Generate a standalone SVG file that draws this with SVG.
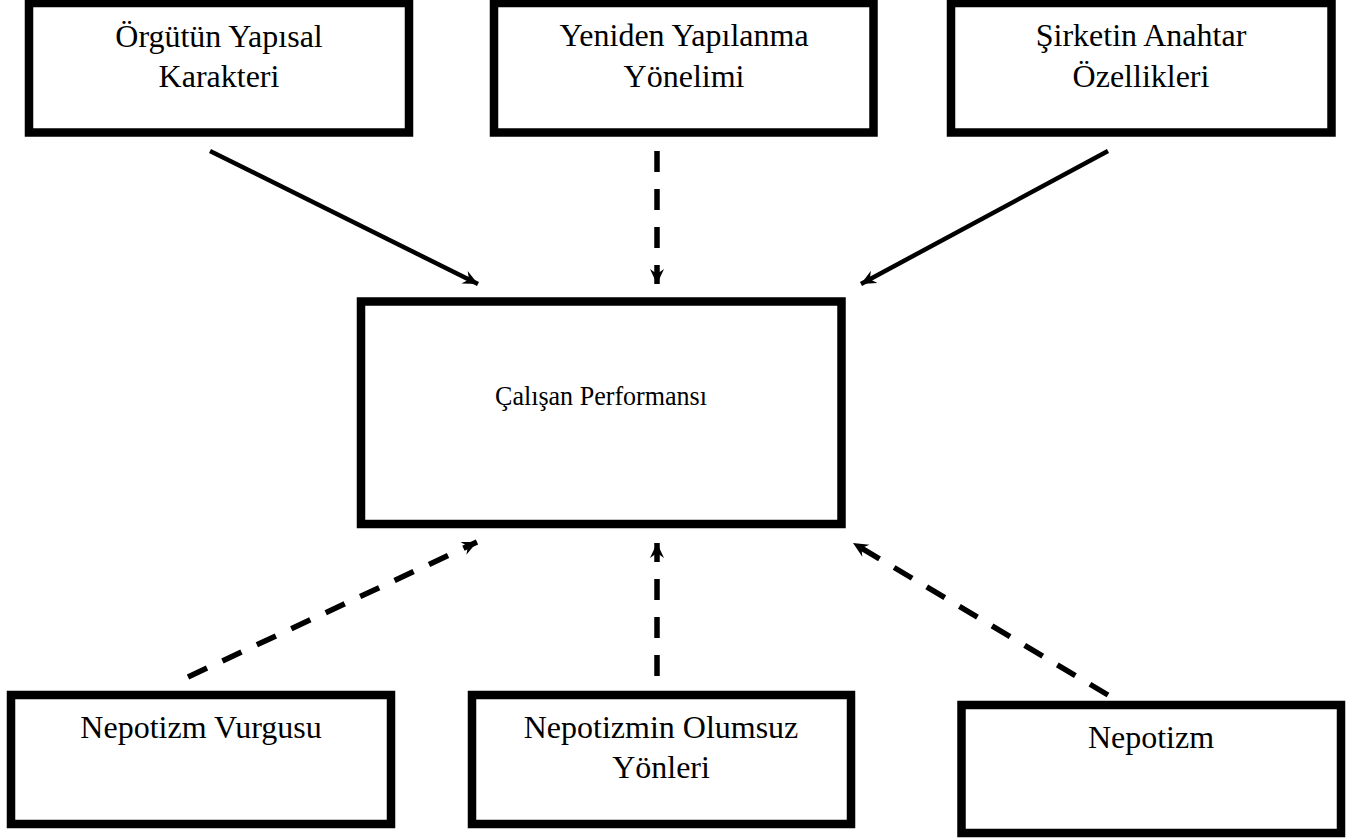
<svg xmlns="http://www.w3.org/2000/svg" width="1363" height="839" viewBox="0 0 1363 839">
<style>
.box{fill:#fff;stroke:#000;stroke-width:8.5}
.t{font-family:"Liberation Serif","Times New Roman",serif;font-size:32px;fill:#000;text-anchor:middle}
.tc{font-size:28px}
.solid{stroke:#000;stroke-width:4.5;fill:none;marker-end:url(#ah)}
.dash{stroke:#000;stroke-width:5.5;fill:none;stroke-dasharray:21 17;marker-end:url(#ah)}
</style>
<defs>
<marker id="ah" markerUnits="userSpaceOnUse" viewBox="-16 -8 18 16" refX="0" refY="0" markerWidth="18" markerHeight="16" orient="auto">
<path d="M0,0 L-15,-7 L-10,0 L-15,7 Z" fill="#000"/>
</marker>
</defs>
<rect width="1363" height="839" fill="#fff"/>
<g id="n1"><rect class="box" x="29" y="3" width="380" height="129.5"/><text class="t" x="219" y="47">Örgütün Yapısal</text><text class="t" x="219" y="87">Karakteri</text></g>
<g id="n2"><rect class="box" x="494" y="3" width="379.5" height="129.5"/><text class="t" x="684" y="46">Yeniden Yapılanma</text><text class="t" x="684" y="87">Yönelimi</text></g>
<g id="n3"><rect class="box" x="951" y="3" width="380.5" height="129.5"/><text class="t" x="1141" y="46">Şirketin Anahtar</text><text class="t" x="1141" y="87">Özellikleri</text></g>
<g id="n4"><rect class="box" x="361" y="301.5" width="480.5" height="222.5"/><text class="t tc" x="601" y="405" textLength="212" lengthAdjust="spacingAndGlyphs">Çalışan Performansı</text></g>
<g id="n5"><rect class="box" x="11" y="695" width="380" height="129"/><text class="t" x="201" y="738">Nepotizm Vurgusu</text></g>
<g id="n6"><rect class="box" x="472" y="695" width="379" height="129"/><text class="t" x="661" y="738">Nepotizmin Olumsuz</text><text class="t" x="661" y="778">Yönleri</text></g>
<g id="n7"><rect class="box" x="961.5" y="705" width="379.5" height="128"/><text class="t" x="1151" y="748">Nepotizm</text></g>
<g id="edges">
<line class="solid" x1="210" y1="151" x2="478" y2="284"/>
<line class="dash" x1="657" y1="151" x2="657" y2="284"/>
<line class="solid" x1="1108" y1="151" x2="861" y2="284"/>
<line class="dash" x1="188" y1="677" x2="477" y2="542"/>
<line class="dash" x1="657" y1="676" x2="657" y2="543"/>
<line class="dash" x1="1108" y1="695" x2="853" y2="543"/>
</g>
</svg>
